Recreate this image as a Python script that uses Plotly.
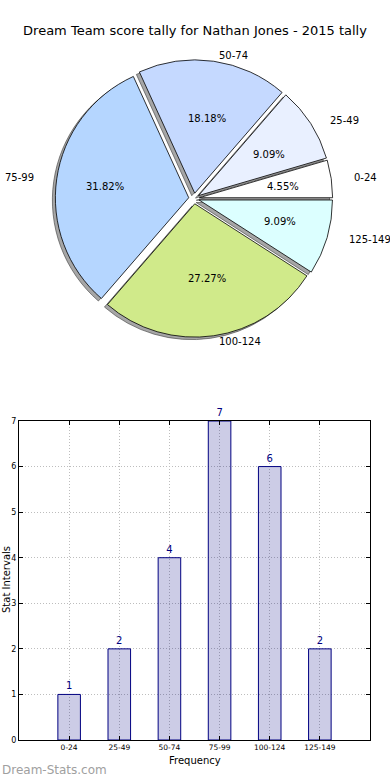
import math
import plotly.graph_objects as go

title_text = "Dream Team score tally for Nathan Jones - 2015 tally"
categories = ["0-24", "25-49", "50-74", "75-99", "100-124", "125-149"]
counts = [1, 2, 4, 7, 6, 2]
slice_colors = ["#ffffff", "#e9f0ff", "#c5d9ff", "#b5d6ff", "#d0ea8a", "#dcffff"]
explode = 0.04
y_ticks = [0, 1, 2, 3, 4, 5, 6, 7]

W, H = 390, 776
FONT = "DejaVu Sans"

# pie geometry (pixels)
PCX, PCY = 194, 198.5
RX, RY = 140, 127           # reference pie is slightly elliptical
R = math.sqrt(RX * RY)      # plotly pie is circular


def px(x):
    return x / W


def py(y):
    return 1 - y / H


def dom(cx, cy, rad):
    return dict(x=[px(cx - rad), px(cx + rad)], y=[py(cy + rad), py(cy - rad)])


pulls = [explode] * len(counts)
R_dom = R * (1 + explode)

# matplotlib draws counter-clockwise from 3 o'clock; in plotly the same layout is
# clockwise from 3 o'clock with the slice order reversed
common = dict(labels=categories[::-1], values=counts[::-1], sort=False, direction="clockwise",
              rotation=90, pull=pulls[::-1], showlegend=False, textinfo="none")

fig = go.Figure()
# shadow
fig.add_trace(go.Pie(**common, domain=dom(PCX - 3, PCY + 2.5, R_dom),
                     marker=dict(colors=["rgba(77,77,77,0.5)"] * 6,
                                 line=dict(color="rgba(60,60,60,0.6)", width=1)),
                     hoverinfo="skip"))
# main slices
fig.add_trace(go.Pie(**common, domain=dom(PCX, PCY, R_dom),
                     marker=dict(colors=slice_colors[::-1], line=dict(color="black", width=0.8)),
                     hovertemplate="%{label}: %{value}<extra></extra>"))

# slice texts, placed like matplotlib (autopct at 0.6 r, labels at 1.1 r)
annotations = []
total = sum(counts)
cum = 0.0
for cat, v in zip(categories, counts):
    frac = v / total
    mid = 2 * math.pi * (cum + frac / 2)
    cum += frac
    c, s = math.cos(mid), math.sin(mid)
    ax, ay = PCX + explode * RX * c, PCY - explode * RY * s
    annotations.append(dict(text=f"{100 * frac:.2f}%", x=px(ax + 0.6 * RX * c), y=py(ay - 0.6 * RY * s),
                            xanchor="center", yanchor="middle"))
    annotations.append(dict(text=cat, x=px(ax + 1.1 * RX * c), y=py(ay - 1.1 * RY * s),
                            xanchor="left" if c > 0 else "right", yanchor="middle"))
for a in annotations:
    a.update(xref="paper", yref="paper", showarrow=False, font=dict(size=10, color="black"))

fig.add_trace(go.Bar(x=categories, y=counts, width=0.45,
                     marker=dict(color="rgba(0,0,128,0.2)", line=dict(color="#000080", width=1)),
                     text=counts, textposition="outside", cliponaxis=False,
                     textfont=dict(family=FONT, size=10, color="#000080"),
                     showlegend=False))

axis_common = dict(showline=True, linecolor="black", linewidth=1, mirror="allticks",
                   ticks="inside", ticklen=4, tickcolor="black", automargin=False,
                   showgrid=True, gridcolor="#bdbdbd", griddash="1px,2px", gridwidth=1,
                   zeroline=False)

annotations += [
    dict(text="Frequency", xref="paper", yref="paper", x=px(194.5), y=py(760),
         showarrow=False, font=dict(size=10), xanchor="center", yanchor="middle"),
    dict(text="Stat Intervals", xref="paper", yref="paper", x=px(6), y=py(580),
         showarrow=False, textangle=-90, font=dict(size=10), xanchor="center", yanchor="middle"),
    dict(text="Dream-Stats.com", xref="paper", yref="paper", x=0, y=py(770),
         showarrow=False, font=dict(size=12, color="#a0a0a0"), xanchor="left", yanchor="middle"),
]

fig.update_layout(
    width=W, height=H, margin=dict(l=0, r=0, t=0, b=0),
    paper_bgcolor="white", plot_bgcolor="white",
    font=dict(family=FONT, color="black"),
    title=dict(text=title_text, x=0.5, xanchor="center", y=py(30), yanchor="middle",
               font=dict(family=FONT, size=13, color="black")),
    xaxis=dict(domain=[px(19), px(370)], range=[-1, 6], type="category",
               tickfont=dict(size=7.5), **axis_common),
    yaxis=dict(domain=[py(740), py(421)], range=[0, 7], tickvals=y_ticks,
               tickfont=dict(size=8), **axis_common),
    annotations=annotations,
)

fig.write_html("out.html", config={"displayModeBar": False},
               post_script="document.body.style.margin='0';")
